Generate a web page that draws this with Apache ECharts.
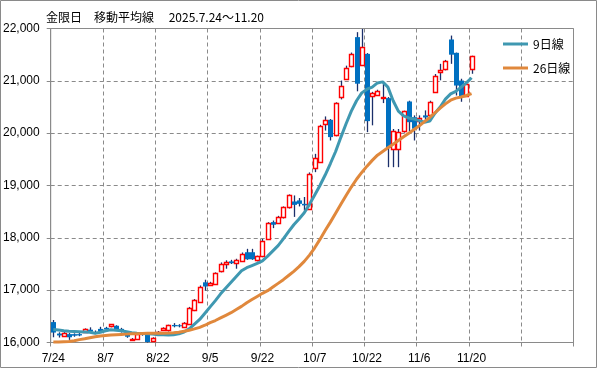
<!DOCTYPE html>
<html><head><meta charset="utf-8">
<script src="https://cdn.jsdelivr.net/npm/echarts@6/dist/echarts.min.js"></script>
<style>html,body{margin:0;padding:0;background:#fff}#c{width:599px;height:369px}</style>
</head><body><div id="c"></div>
<script>
const titleText = '金限日　移動平均線　 2025.7.24～11.20';
const dates = ['7/24','7/25','7/28','7/29','7/30','7/31','8/1','8/4','8/5','8/6','8/7','8/8','8/12','8/13','8/14','8/15','8/18','8/19','8/20','8/21','8/22','8/25','8/26','8/27','8/28','8/29','9/1','9/2','9/3','9/4','9/5','9/8','9/9','9/10','9/11','9/12','9/16','9/17','9/18','9/19','9/22','9/24','9/25','9/26','9/29','9/30','10/1','10/2','10/3','10/6','10/7','10/8','10/9','10/10','10/14','10/15','10/16','10/17','10/20','10/21','10/22','10/23','10/24','10/27','10/28','10/29','10/30','10/31','11/4','11/5','11/6','11/7','11/10','11/11','11/12','11/13','11/14','11/17','11/18','11/19','11/20'];
const opens  = [16390,16170,16140,16160,16160,16160,16195,16245,16200,16260,16280,16300,16320,16260,16170,16050,16070,16170,16155,16030,16170,16240,16220,16335,16330,16295,16360,16625,16790,17150,17105,17120,17365,17505,17550,17530,17555,17725,17725,17565,17645,17980,18300,18285,18385,18575,18695,18715,18650,18555,19340,19445,20180,20255,19955,20690,21040,21280,21835,21310,21515,20715,20740,20675,20670,19700,19710,20030,20605,20305,20240,20340,20350,20795,21165,21215,21790,21535,21005,20720,21210];
const closes = [16190,16135,16190,16100,16130,16135,16255,16210,16180,16220,16250,16345,16250,16220,16110,16070,16165,16150,16010,16090,16200,16280,16325,16310,16310,16370,16660,16815,17070,17070,17140,17325,17505,17535,17515,17580,17695,17590,17590,17645,17935,18285,18250,18395,18585,18810,18630,18650,18620,19225,19530,20130,20255,19925,20575,20905,21250,21515,20945,21645,20230,20765,20815,20700,19715,20040,20030,20415,20210,20085,20295,20300,20605,21100,21210,21375,21500,20910,20700,20945,21465];
const lows   = [16100,16095,16120,16050,16110,16120,16190,16200,16160,16200,16230,16290,16230,16190,16090,16030,16060,16130,16000,16020,16160,16220,16210,16290,16290,16280,16350,16600,16770,16995,17090,17100,17340,17410,17500,17410,17540,17580,17580,17550,17630,17960,18185,18270,18370,18560,18400,18600,18520,18540,19255,19430,20050,19860,19940,20645,21020,21260,20800,21290,20020,20150,20720,20575,19350,19350,19350,20010,20040,19860,20050,20210,20340,20780,21010,21200,21325,20720,20600,20700,21135];
const highs  = [16430,16195,16200,16180,16175,16180,16270,16290,16230,16300,16300,16350,16330,16280,16190,16085,16180,16190,16170,16100,16220,16290,16340,16370,16350,16390,16680,16830,17090,17200,17160,17340,17530,17570,17580,17600,17720,17790,17790,17660,17980,18300,18330,18420,18600,18830,18810,18760,18780,19250,19605,20160,20320,20270,20590,21005,21290,21540,21930,21990,21530,20790,20830,20955,20690,20080,20080,20430,20620,20340,20340,20435,20620,21130,21325,21400,21865,21540,21040,20960,21480];
const ma9  = [16250,16240,16225,16215,16210,16205,16200,16195,16175,16195,16225,16245,16235,16225,16205,16185,16175,16170,16165,16160,16150,16150,16145,16150,16165,16200,16260,16350,16440,16560,16680,16800,16930,17040,17150,17260,17370,17430,17470,17510,17560,17650,17750,17850,17980,18120,18250,18360,18480,18640,18820,19000,19200,19420,19650,19920,20180,20420,20620,20770,20840,20880,20960,20980,20880,20620,20420,20330,20290,20270,20240,20210,20230,20380,20500,20650,20750,20800,20880,20960,21060];
const ma26 = [16010,16010,16015,16020,16035,16055,16070,16090,16110,16125,16135,16145,16150,16155,16160,16165,16168,16172,16175,16178,16178,16178,16180,16185,16195,16215,16235,16260,16290,16330,16380,16420,16470,16520,16570,16630,16690,16760,16820,16880,16940,16990,17060,17130,17200,17280,17360,17450,17550,17670,17810,17970,18140,18300,18470,18640,18810,18970,19120,19250,19370,19480,19580,19650,19720,19790,19860,19930,20000,20070,20140,20220,20300,20390,20480,20560,20630,20670,20690,20720,20755];
const seriesNames = ['9日線','26日線'];
const yMin = 16000, yMax = 22000, yStep = 1000;
const totalSlots = 100;
const labelEvery = 10;

const categories = dates.slice();
for (let k = dates.length; k < totalSlots; k++) categories.push('_' + k);
const candleData = dates.map((d, i) => [i, opens[i], closes[i], lows[i], highs[i]]);

const gridColor = '#8a8a8a';
const font = 'Liberation Sans';

function renderCandle(params, api) {
  const i = api.value(0), o = api.value(1), c = api.value(2), l = api.value(3), h = api.value(4);
  const pO = api.coord([i, o]), pC = api.coord([i, c]);
  const pL = api.coord([i, l]), pH = api.coord([i, h]);
  const px = Math.round(pO[0]);
  const top = Math.min(pO[1], pC[1]), bot = Math.max(pO[1], pC[1]);
  const children = [{
    type: 'line',
    shape: { x1: px + 0.5, y1: pH[1], x2: px + 0.5, y2: pL[1] },
    style: { stroke: '#1b2f6a', lineWidth: 1.3 }
  }];
  if (c >= o) {
    const t = Math.round(top) + 0.5;
    children.push({
      type: 'rect',
      shape: { x: px - 1.5, y: t, width: 4, height: Math.max(1, Math.round(bot - top)) },
      style: { fill: '#ffffff', stroke: '#ff0000', lineWidth: 1.4 }
    });
  } else {
    children.push({
      type: 'rect',
      shape: { x: px - 2, y: top, width: 5, height: Math.max(1, bot - top) },
      style: { fill: '#0070c0' }
    });
  }
  return { type: 'group', children };
}

const chart = echarts.init(document.getElementById('c'), null, { renderer: 'canvas' });
chart.setOption({
  animation: false,
  backgroundColor: '#ffffff',
  title: {
    text: titleText, left: 41, top: 6,
    textStyle: { fontSize: 12, fontWeight: 'normal', color: '#000', fontFamily: 'Noto Sans CJK JP' }
  },
  legend: {
    data: seriesNames, orient: 'vertical', left: 498, top: 33,
    icon: 'rect', itemWidth: 25, itemHeight: 3, itemGap: 12,
    textStyle: { fontSize: 12, color: '#000', fontFamily: 'Noto Sans CJK JP' }
  },
  graphic: [{
    type: 'rect', silent: true, z: -10,
    shape: { x: 0.5, y: 0.5, width: 596, height: 367 },
    style: { fill: 'none', stroke: '#8a8a8a', lineWidth: 1 }
  }],
  grid: {
    left: 47.5, top: 28.5, right: 25.5, bottom: 26.5,
    show: true, borderColor: gridColor, borderWidth: 1, backgroundColor: 'transparent'
  },
  xAxis: {
    type: 'category', data: categories, boundaryGap: true,
    axisLine: { show: true, lineStyle: { color: gridColor } },
    axisTick: { show: true, interval: labelEvery - 1, length: 4, lineStyle: { color: gridColor } },
    axisLabel: {
      interval: labelEvery - 1, margin: 10, fontSize: 12, color: '#000', fontFamily: font,
      formatter: v => (v.charAt(0) === '_' ? '' : v)
    },
    splitLine: { show: true, interval: labelEvery - 1, lineStyle: { color: gridColor, type: [4, 3], width: 1 } }
  },
  yAxis: {
    type: 'value', min: yMin, max: yMax, interval: yStep,
    axisLine: { show: true, lineStyle: { color: gridColor } },
    axisTick: { show: true, length: 4, lineStyle: { color: gridColor } },
    axisLabel: { margin: 11, fontSize: 12, color: '#000', fontFamily: font },
    splitLine: { show: true, lineStyle: { color: gridColor, type: [4, 3], width: 1 } }
  },
  series: [
    {
      type: 'custom', name: 'candle', renderItem: renderCandle,
      encode: { x: 0, y: [1, 2, 3, 4] }, data: candleData, z: 2
    },
    {
      type: 'line', name: seriesNames[0], data: ma9, symbol: 'none', z: 3,
      lineStyle: { width: 3, color: '#3f98b1' }, itemStyle: { color: '#3f98b1' }
    },
    {
      type: 'line', name: seriesNames[1], data: ma26, symbol: 'none', z: 3,
      lineStyle: { width: 3, color: '#e0883c' }, itemStyle: { color: '#e0883c' }
    }
  ]
});
</script>
</body></html>
